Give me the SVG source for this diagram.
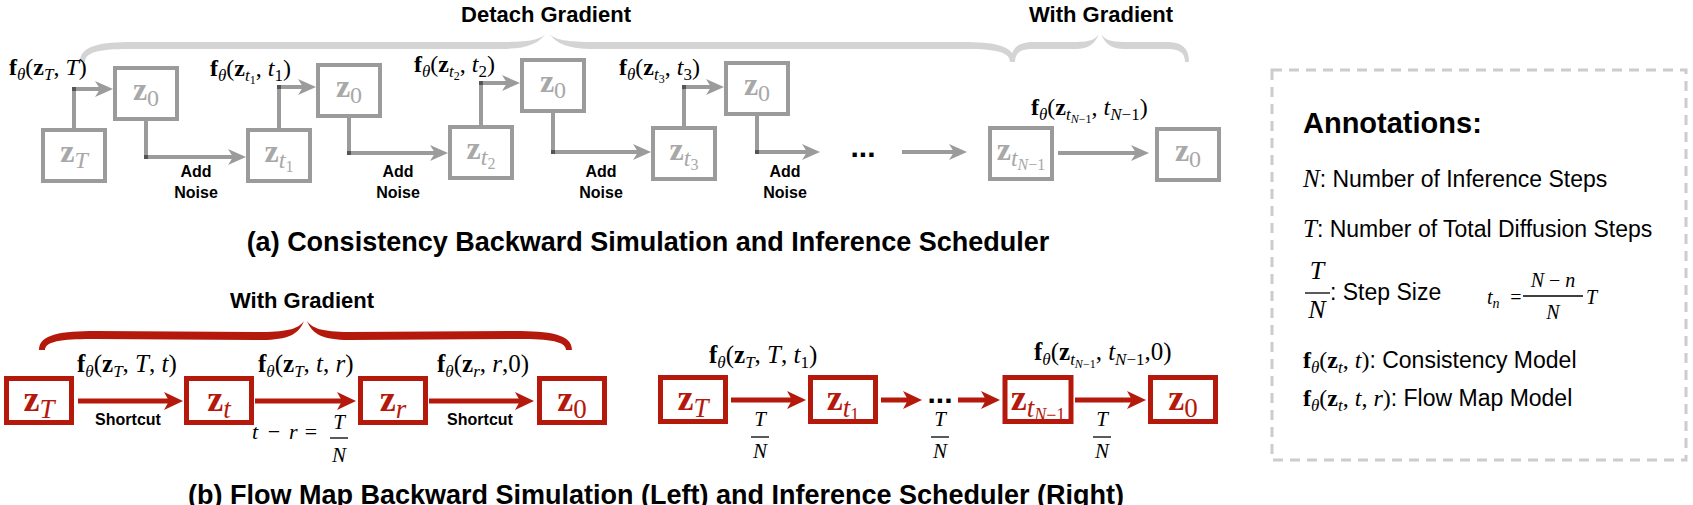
<svg xmlns="http://www.w3.org/2000/svg" width="1693" height="505" viewBox="0 0 1693 505">
<defs>
<style>
text{font-family:"Liberation Serif","Times New Roman",serif;fill:#000}
.sans{font-family:"Liberation Sans",Arial,Helvetica,sans-serif}
.bd{font-weight:bold}
.it{font-style:italic}
.gbox{fill:#fff;stroke:#9b9b9b;stroke-width:4}
.rbox{fill:#fff;stroke:#b5190c;stroke-width:5}
.gt{fill:#a8a8a8}
.rt{fill:#b5190c}
.gline{fill:none;stroke:#9b9b9b;stroke-width:4}
.rline{fill:none;stroke:#b5190c;stroke-width:5}
.gbrace{fill:#d4d4d4}
.rbrace{fill:#b5190c}
.frac{stroke:#000;stroke-width:1.3}
</style>
<marker id="ga" markerUnits="userSpaceOnUse" markerWidth="18" markerHeight="16" refX="10" refY="8" orient="auto" viewBox="0 0 18 16"><path d="M0,0 L18,8 L0,16 L5,8 Z" fill="#9b9b9b"/></marker>
<marker id="ra" markerUnits="userSpaceOnUse" markerWidth="19" markerHeight="18" refX="10" refY="9" orient="auto" viewBox="0 0 19 18"><path d="M0,0 L19,9 L0,18 L5,9 Z" fill="#b5190c"/></marker>
<marker id="bend" markerUnits="userSpaceOnUse" markerWidth="4" markerHeight="4" refX="2" refY="2" viewBox="0 0 4 4"><rect width="4" height="4" fill="#555"/></marker>
</defs>
<rect width="1693" height="505" fill="#fff"/>

<!-- Braces and group labels -->
<g id="brace-detach">
<path class="gbrace" d="M80,62 C80,45 102,42 132,42 L501,42 C528,42 541,40 546,33 C539,44 526,49 501,49 L132,49 C107,49 85,50 85,62 Z"/>
<path class="gbrace" transform="matrix(-1,0,0,1,1095,0)" d="M80,62 C80,45 102,42 132,42 L501,42 C528,42 541,40 546,33 C539,44 526,49 501,49 L132,49 C107,49 85,50 85,62 Z"/>
<text class="sans bd" x="546" y="22" font-size="22" text-anchor="middle">Detach Gradient</text>
</g>
<g id="brace-with-a">
<path class="gbrace" d="M1011,62 C1011,47 1019,42 1034,42 L1076,42 C1090,42 1096,39 1099,34 C1095,44 1088,49 1076,49 L1034,49 C1023,49 1015,51 1015,62 Z"/>
<path class="gbrace" transform="matrix(-1,0,0,1,2200,0)" d="M1011,62 C1011,47 1019,42 1034,42 L1076,42 C1090,42 1096,39 1099,34 C1095,44 1088,49 1076,49 L1034,49 C1023,49 1015,51 1015,62 Z"/>
<text class="sans bd" x="1101" y="22" font-size="22" text-anchor="middle">With Gradient</text>
</g>
<g id="brace-with-b">
<path class="rbrace" d="M39,350 C39,334 62,331 96,331 L262,332 C289,332 299,328 304,321 C299,334 288,340 262,340 L96,339 C68,339 45,340 45,350 Z"/>
<path class="rbrace" transform="matrix(-1,0,0,1,611,0)" d="M39,350 C39,334 62,331 96,331 L262,332 C289,332 299,328 304,321 C299,334 288,340 262,340 L96,339 C68,339 45,340 45,350 Z"/>
<text class="sans bd" x="302" y="308" font-size="22" text-anchor="middle">With Gradient</text>
</g>

<!-- Row (a) nodes -->
<g id="a-zT"><rect class="gbox" x="43" y="130" width="62" height="51"/><text class="gt" x="74" y="161.5" font-size="32" text-anchor="middle"><tspan class="bd">z</tspan><tspan class="it" font-size="24" dy="6">T</tspan></text></g>
<g id="a-z0-1"><rect class="gbox" x="115" y="68" width="62" height="51"/><text class="gt" x="146" y="99.5" font-size="32" text-anchor="middle"><tspan class="bd">z</tspan><tspan font-size="24" dy="6">0</tspan></text></g>
<g id="a-zt1"><rect class="gbox" x="248" y="130" width="62" height="51"/><text class="gt" x="279" y="161.5" font-size="32" text-anchor="middle"><tspan class="bd">z</tspan><tspan class="it" font-size="24" dy="6">t</tspan><tspan font-size="16" dy="4">1</tspan></text></g>
<g id="a-z0-2"><rect class="gbox" x="318" y="65" width="62" height="51"/><text class="gt" x="349" y="96.5" font-size="32" text-anchor="middle"><tspan class="bd">z</tspan><tspan font-size="24" dy="6">0</tspan></text></g>
<g id="a-zt2"><rect class="gbox" x="450" y="127" width="62" height="51"/><text class="gt" x="481" y="158.5" font-size="32" text-anchor="middle"><tspan class="bd">z</tspan><tspan class="it" font-size="24" dy="6">t</tspan><tspan font-size="16" dy="4">2</tspan></text></g>
<g id="a-z0-3"><rect class="gbox" x="522" y="60" width="62" height="51"/><text class="gt" x="553" y="91.5" font-size="32" text-anchor="middle"><tspan class="bd">z</tspan><tspan font-size="24" dy="6">0</tspan></text></g>
<g id="a-zt3"><rect class="gbox" x="653" y="128" width="62" height="51"/><text class="gt" x="684" y="159.5" font-size="32" text-anchor="middle"><tspan class="bd">z</tspan><tspan class="it" font-size="24" dy="6">t</tspan><tspan font-size="16" dy="4">3</tspan></text></g>
<g id="a-z0-4"><rect class="gbox" x="726" y="63" width="62" height="51"/><text class="gt" x="757" y="94.5" font-size="32" text-anchor="middle"><tspan class="bd">z</tspan><tspan font-size="24" dy="6">0</tspan></text></g>
<g id="a-ztN1"><rect class="gbox" x="990" y="128" width="62" height="51"/><text class="gt" x="1021" y="159.5" font-size="32" text-anchor="middle"><tspan class="bd">z</tspan><tspan class="it" font-size="24" dy="6">t</tspan><tspan class="it" font-size="16" dy="4">N</tspan><tspan font-size="16">−1</tspan></text></g>
<g id="a-z0-f"><rect class="gbox" x="1157" y="129" width="62" height="51"/><text class="gt" x="1188" y="160.5" font-size="32" text-anchor="middle"><tspan class="bd">z</tspan><tspan font-size="24" dy="6">0</tspan></text></g>

<!-- Row (b) nodes -->
<g id="b-zT"><rect class="rbox" x="6.5" y="378.5" width="65" height="44"/><text class="rt" x="39" y="410.5" font-size="36" text-anchor="middle"><tspan class="bd">z</tspan><tspan class="it" font-size="27" dy="7">T</tspan></text></g>
<g id="b-zt"><rect class="rbox" x="186.5" y="378.5" width="65" height="44"/><text class="rt" x="219" y="410.5" font-size="36" text-anchor="middle"><tspan class="bd">z</tspan><tspan class="it" font-size="27" dy="7">t</tspan></text></g>
<g id="b-zr"><rect class="rbox" x="360.5" y="378.5" width="65" height="44"/><text class="rt" x="393" y="410.5" font-size="36" text-anchor="middle"><tspan class="bd">z</tspan><tspan class="it" font-size="27" dy="7">r</tspan></text></g>
<g id="b-z0"><rect class="rbox" x="539.5" y="378.5" width="65" height="44"/><text class="rt" x="572" y="410.5" font-size="36" text-anchor="middle"><tspan class="bd">z</tspan><tspan font-size="27" dy="7">0</tspan></text></g>
<g id="c-zT"><rect class="rbox" x="660.5" y="377.5" width="65" height="44"/><text class="rt" x="693" y="409.5" font-size="36" text-anchor="middle"><tspan class="bd">z</tspan><tspan class="it" font-size="27" dy="7">T</tspan></text></g>
<g id="c-zt1"><rect class="rbox" x="810.5" y="377.5" width="65" height="44"/><text class="rt" x="843" y="409.5" font-size="36" text-anchor="middle"><tspan class="bd">z</tspan><tspan class="it" font-size="27" dy="7">t</tspan><tspan font-size="18" dy="4">1</tspan></text></g>
<g id="c-ztN1"><rect class="rbox" x="1005" y="377.5" width="66" height="44"/><text class="rt" x="1038" y="409.5" font-size="36" text-anchor="middle"><tspan class="bd">z</tspan><tspan class="it" font-size="27" dy="7">t</tspan><tspan class="it" font-size="18" dy="4">N</tspan><tspan font-size="18">−1</tspan></text></g>
<g id="c-z0"><rect class="rbox" x="1150.5" y="377.5" width="65" height="44"/><text class="rt" x="1183" y="409.5" font-size="36" text-anchor="middle"><tspan class="bd">z</tspan><tspan font-size="27" dy="7">0</tspan></text></g>

<!-- Connectors -->
<g id="connectors">
<polyline class="gline" points="74,128 74,89 105,89" marker-mid="url(#bend)" marker-end="url(#ga)"/>
<polyline class="gline" points="146,121 146,157 238,157" marker-mid="url(#bend)" marker-end="url(#ga)"/>
<polyline class="gline" points="279,128 279,87 308,87" marker-mid="url(#bend)" marker-end="url(#ga)"/>
<polyline class="gline" points="349,118 349,153 440,153" marker-mid="url(#bend)" marker-end="url(#ga)"/>
<polyline class="gline" points="481,125 481,83 512,83" marker-mid="url(#bend)" marker-end="url(#ga)"/>
<polyline class="gline" points="553,113 553,152 643,152" marker-mid="url(#bend)" marker-end="url(#ga)"/>
<polyline class="gline" points="684,126 684,87 716,87" marker-mid="url(#bend)" marker-end="url(#ga)"/>
<polyline class="gline" points="757,116 757,152 812,152" marker-mid="url(#bend)" marker-end="url(#ga)"/>
<line class="gline" x1="902" y1="152" x2="959" y2="152" marker-end="url(#ga)"/>
<line class="gline" x1="1058" y1="153" x2="1141" y2="153" marker-end="url(#ga)"/>

<line class="rline" x1="78" y1="401" x2="174" y2="401" marker-end="url(#ra)"/>
<line class="rline" x1="255" y1="401" x2="347" y2="401" marker-end="url(#ra)"/>
<line class="rline" x1="429" y1="401" x2="525" y2="401" marker-end="url(#ra)"/>
<line class="rline" x1="731" y1="400" x2="797" y2="400" marker-end="url(#ra)"/>
<line class="rline" x1="881" y1="400" x2="913" y2="400" marker-end="url(#ra)"/>
<line class="rline" x1="958" y1="400" x2="991" y2="400" marker-end="url(#ra)"/>
<line class="rline" x1="1075" y1="400" x2="1137" y2="400" marker-end="url(#ra)"/>

<!-- connector labels row (a) -->
<text x="9" y="75" font-size="24"><tspan class="bd">f</tspan><tspan class="it" font-size="17" dy="5">θ</tspan><tspan dy="-5">(</tspan><tspan class="bd">z</tspan><tspan class="it" font-size="17" dy="5">T</tspan><tspan dy="-5">, </tspan><tspan class="it">T</tspan><tspan>)</tspan></text>
<text x="210" y="76" font-size="24"><tspan class="bd">f</tspan><tspan class="it" font-size="17" dy="5">θ</tspan><tspan dy="-5">(</tspan><tspan class="bd">z</tspan><tspan class="it" font-size="17" dy="5">t</tspan><tspan font-size="12" dy="3">1</tspan><tspan dy="-8">, </tspan><tspan class="it">t</tspan><tspan font-size="17" dy="5">1</tspan><tspan dy="-5">)</tspan></text>
<text x="414" y="72" font-size="24"><tspan class="bd">f</tspan><tspan class="it" font-size="17" dy="5">θ</tspan><tspan dy="-5">(</tspan><tspan class="bd">z</tspan><tspan class="it" font-size="17" dy="5">t</tspan><tspan font-size="12" dy="3">2</tspan><tspan dy="-8">, </tspan><tspan class="it">t</tspan><tspan font-size="17" dy="5">2</tspan><tspan dy="-5">)</tspan></text>
<text x="619" y="75" font-size="24"><tspan class="bd">f</tspan><tspan class="it" font-size="17" dy="5">θ</tspan><tspan dy="-5">(</tspan><tspan class="bd">z</tspan><tspan class="it" font-size="17" dy="5">t</tspan><tspan font-size="12" dy="3">3</tspan><tspan dy="-8">, </tspan><tspan class="it">t</tspan><tspan font-size="17" dy="5">3</tspan><tspan dy="-5">)</tspan></text>
<text x="1031" y="115" font-size="24"><tspan class="bd">f</tspan><tspan class="it" font-size="17" dy="5">θ</tspan><tspan dy="-5">(</tspan><tspan class="bd">z</tspan><tspan class="it" font-size="17" dy="5">t</tspan><tspan class="it" font-size="12" dy="3">N</tspan><tspan font-size="12">−1</tspan><tspan dy="-8">, </tspan><tspan class="it">t</tspan><tspan class="it" font-size="17" dy="5">N</tspan><tspan font-size="17">−1</tspan><tspan dy="-5">)</tspan></text>

<text class="sans bd" font-size="16" text-anchor="middle"><tspan x="196" y="177">Add</tspan><tspan x="196" y="198">Noise</tspan></text>
<text class="sans bd" font-size="16" text-anchor="middle"><tspan x="398" y="177">Add</tspan><tspan x="398" y="198">Noise</tspan></text>
<text class="sans bd" font-size="16" text-anchor="middle"><tspan x="601" y="177">Add</tspan><tspan x="601" y="198">Noise</tspan></text>
<text class="sans bd" font-size="16" text-anchor="middle"><tspan x="785" y="177">Add</tspan><tspan x="785" y="198">Noise</tspan></text>
<text class="sans bd" x="863" y="157" font-size="30" text-anchor="middle">...</text>

<!-- connector labels row (b) -->
<text x="77" y="372" font-size="25"><tspan class="bd">f</tspan><tspan class="it" font-size="17" dy="5">θ</tspan><tspan dy="-5">(</tspan><tspan class="bd">z</tspan><tspan class="it" font-size="17" dy="5">T</tspan><tspan dy="-5">, </tspan><tspan class="it">T</tspan><tspan>, </tspan><tspan class="it">t</tspan><tspan>)</tspan></text>
<text x="258" y="372" font-size="25"><tspan class="bd">f</tspan><tspan class="it" font-size="17" dy="5">θ</tspan><tspan dy="-5">(</tspan><tspan class="bd">z</tspan><tspan class="it" font-size="17" dy="5">T</tspan><tspan dy="-5">, </tspan><tspan class="it">t</tspan><tspan>, </tspan><tspan class="it">r</tspan><tspan>)</tspan></text>
<text x="437" y="372" font-size="25"><tspan class="bd">f</tspan><tspan class="it" font-size="17" dy="5">θ</tspan><tspan dy="-5">(</tspan><tspan class="bd">z</tspan><tspan class="it" font-size="17" dy="5">r</tspan><tspan dy="-5">, </tspan><tspan class="it">r</tspan><tspan>,0)</tspan></text>
<text class="sans bd" x="128" y="425" font-size="16" text-anchor="middle">Shortcut</text>
<text class="sans bd" x="480" y="425" font-size="16" text-anchor="middle">Shortcut</text>
<text class="it" x="252" y="439" font-size="22">t</text>
<text x="274" y="439" font-size="22" text-anchor="middle">−</text>
<text class="it" x="289" y="439" font-size="22">r</text>
<text x="311" y="439" font-size="22" text-anchor="middle">=</text>
<text class="it" x="339" y="429" font-size="21" text-anchor="middle">T</text>
<line class="frac" x1="330" y1="438" x2="348" y2="438"/>
<text class="it" x="339" y="462" font-size="21" text-anchor="middle">N</text>

<text x="709" y="363" font-size="25"><tspan class="bd">f</tspan><tspan class="it" font-size="17" dy="5">θ</tspan><tspan dy="-5">(</tspan><tspan class="bd">z</tspan><tspan class="it" font-size="17" dy="5">T</tspan><tspan dy="-5">, </tspan><tspan class="it">T</tspan><tspan>, </tspan><tspan class="it">t</tspan><tspan font-size="17" dy="5">1</tspan><tspan dy="-5">)</tspan></text>
<text x="1034" y="360" font-size="25"><tspan class="bd">f</tspan><tspan class="it" font-size="17" dy="5">θ</tspan><tspan dy="-5">(</tspan><tspan class="bd">z</tspan><tspan class="it" font-size="17" dy="5">t</tspan><tspan class="it" font-size="12" dy="3">N</tspan><tspan font-size="12">−1</tspan><tspan dy="-8">, </tspan><tspan class="it">t</tspan><tspan class="it" font-size="17" dy="5">N</tspan><tspan font-size="17">−1</tspan><tspan dy="-5">,0)</tspan></text>
<text class="sans bd" x="940" y="403" font-size="30" text-anchor="middle">...</text>
<text class="it" x="760" y="426" font-size="21" text-anchor="middle">T</text>
<line class="frac" x1="751" y1="437" x2="769" y2="437"/>
<text class="it" x="760" y="458" font-size="21" text-anchor="middle">N</text>
<text class="it" x="940" y="426" font-size="21" text-anchor="middle">T</text>
<line class="frac" x1="931" y1="437" x2="949" y2="437"/>
<text class="it" x="940" y="458" font-size="21" text-anchor="middle">N</text>
<text class="it" x="1102" y="426" font-size="21" text-anchor="middle">T</text>
<line class="frac" x1="1093" y1="437" x2="1111" y2="437"/>
<text class="it" x="1102" y="458" font-size="21" text-anchor="middle">N</text>
</g>

<!-- Titles -->
<g id="titles">
<text class="sans bd" x="648" y="251" font-size="27" text-anchor="middle">(a) Consistency Backward Simulation and Inference Scheduler</text>
<text class="sans bd" x="656" y="504" font-size="27" text-anchor="middle">(b) Flow Map Backward Simulation (Left) and Inference Scheduler (Right)</text>
</g>

<!-- Annotations -->
<g id="annotations">
<rect x="1272" y="70" width="414" height="390" fill="none" stroke="#cccccc" stroke-width="3" stroke-dasharray="10 7"/>
<text class="sans bd" x="1303" y="133" font-size="29">Annotations:</text>
<text x="1303" y="187"><tspan class="it" font-size="25">N</tspan><tspan class="sans" font-size="23">: Number of Inference Steps</tspan></text>
<text x="1303" y="237"><tspan class="it" font-size="25">T</tspan><tspan class="sans" font-size="23">: Number of Total Diffusion Steps</tspan></text>
<text class="it" x="1317" y="279" font-size="26" text-anchor="middle">T</text>
<line class="frac" x1="1305" y1="293" x2="1330" y2="293"/>
<text class="it" x="1317" y="318" font-size="26" text-anchor="middle">N</text>
<text class="sans" x="1330" y="300" font-size="23">: Step Size</text>
<text x="1487" y="304" font-size="20"><tspan class="it">t</tspan><tspan class="it" font-size="14" dy="4">n</tspan></text>
<text x="1516" y="304" font-size="20" text-anchor="middle">=</text>
<text x="1553" y="287" font-size="20" text-anchor="middle"><tspan class="it">N</tspan><tspan> − </tspan><tspan class="it">n</tspan></text>
<line class="frac" x1="1523" y1="296" x2="1583" y2="296"/>
<text class="it" x="1553" y="319" font-size="20" text-anchor="middle">N</text>
<text class="it" x="1586" y="304" font-size="20">T</text>
<text x="1303" y="368" font-size="24"><tspan class="bd">f</tspan><tspan class="it" font-size="17" dy="5">θ</tspan><tspan dy="-5">(</tspan><tspan class="bd">z</tspan><tspan class="it" font-size="17" dy="5">t</tspan><tspan dy="-5">, </tspan><tspan class="it">t</tspan><tspan>)</tspan><tspan class="sans" font-size="23">: Consistency Model</tspan></text>
<text x="1303" y="406" font-size="24"><tspan class="bd">f</tspan><tspan class="it" font-size="17" dy="5">θ</tspan><tspan dy="-5">(</tspan><tspan class="bd">z</tspan><tspan class="it" font-size="17" dy="5">t</tspan><tspan dy="-5">, </tspan><tspan class="it">t</tspan><tspan>, </tspan><tspan class="it">r</tspan><tspan>)</tspan><tspan class="sans" font-size="23">: Flow Map Model</tspan></text>
</g>
</svg>
